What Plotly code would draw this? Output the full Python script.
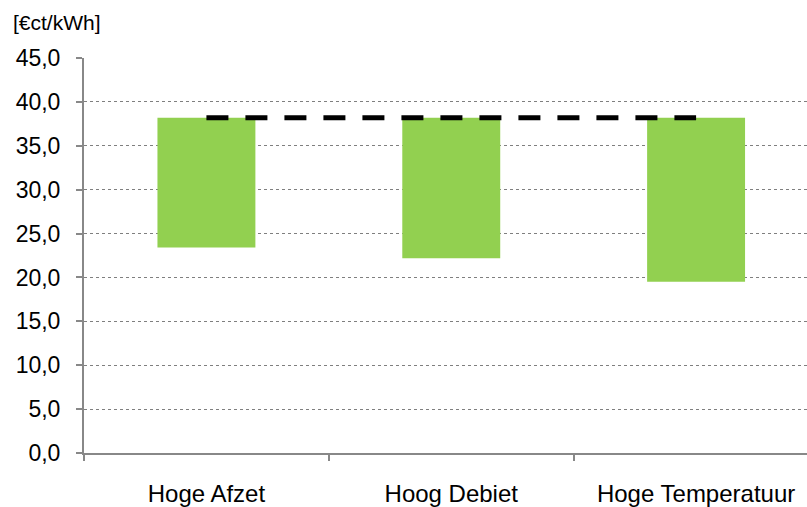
import plotly.graph_objects as go

categories = ["Hoge Afzet", "Hoog Debiet", "Hoge Temperatuur"]
bar_low = [23.4, 22.2, 19.5]
bar_high = [38.2, 38.2, 38.2]
ref_line = [38.2, 38.2, 38.2]
y_ticks = [0, 5, 10, 15, 20, 25, 30, 35, 40, 45]
unit_label = "[€ct/kWh]"

heights = [h - l for h, l in zip(bar_high, bar_low)]

fig = go.Figure()
fig.add_trace(go.Bar(
    x=categories, y=heights, base=bar_low,
    marker=dict(color="#92D050", line=dict(width=0)),
    width=0.4, hoverinfo="skip",
))
fig.add_trace(go.Scatter(
    x=categories, y=ref_line, mode="lines",
    line=dict(color="black", width=5, dash="22px,17px"),
    hoverinfo="skip",
))

font_family = "Liberation Sans, Arial, sans-serif"
fig.update_layout(
    width=807, height=507,
    margin=dict(l=84, r=0, t=58, b=51),
    paper_bgcolor="white", plot_bgcolor="white",
    showlegend=False,
    separators=",.",
    font=dict(family=font_family, size=18, color="black"),
    xaxis=dict(
        type="category",
        range=[-0.5, 2.453],
        showgrid=False,
        showline=True, linecolor="#888888", linewidth=2,
        ticks="outside", tickson="boundaries", ticklen=6, tickwidth=1.5, tickcolor="#888888",
        ticklabelstandoff=18,
        tickfont=dict(size=24, family=font_family, color="black"),
        zeroline=False,
    ),
    yaxis=dict(
        range=[0, 45],
        tickvals=y_ticks,
        tickformat=".1f",
        showgrid=True, gridcolor="#7f7f7f", gridwidth=1, griddash="dot",
        showline=True, linecolor="#888888", linewidth=2,
        ticks="outside", ticklen=6, tickwidth=1.5, tickcolor="#888888",
        ticklabelstandoff=11,
        tickfont=dict(size=23, family=font_family, color="black"),
        zeroline=False,
    ),
    annotations=[dict(
        text=unit_label, xref="paper", yref="paper", x=0, y=1,
        xanchor="left", yanchor="bottom", xshift=-73, yshift=22,
        showarrow=False, font=dict(size=21, family=font_family, color="black"),
    )],
)

fig.write_html("out.html")
